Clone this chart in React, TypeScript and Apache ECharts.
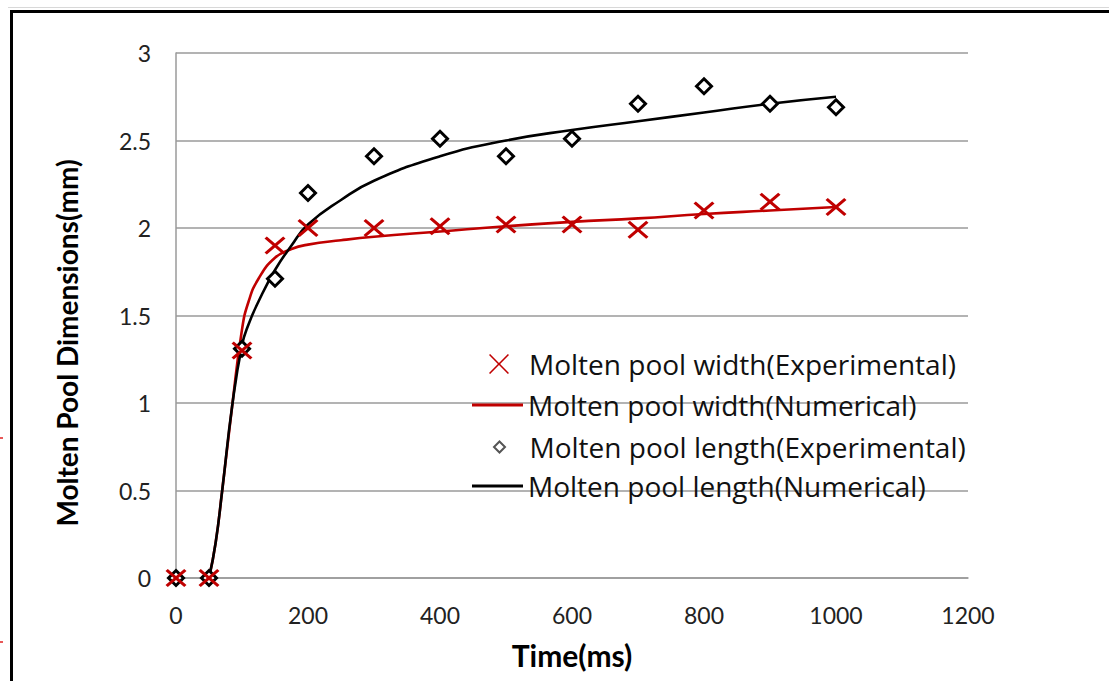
import React, { useEffect, useRef } from "react";
import * as echarts from "echarts";

// ---- data ----
const expTime = [0, 50, 100, 150, 200, 300, 400, 500, 600, 700, 800, 900, 1000];
const widthExp = [0, 0, 1.3, 1.9, 2.0, 2.0, 2.01, 2.02, 2.02, 1.99, 2.1, 2.15, 2.12];
const lengthExp = [0, 0, 1.31, 1.71, 2.2, 2.41, 2.51, 2.41, 2.51, 2.71, 2.81, 2.71, 2.69];

const numTime = [50, 60, 70, 85, 100, 110, 125, 150, 175, 200, 250, 300, 400, 500, 600, 700, 800, 900, 1000];
const widthNum = [0, 0.2, 0.5, 0.98, 1.42, 1.58, 1.71, 1.83, 1.88, 1.905, 1.93, 1.95, 1.98, 2.01, 2.035, 2.055, 2.08, 2.1, 2.12];
const lengthNum = [0, 0.2, 0.5, 0.98, 1.33, 1.45, 1.58, 1.76, 1.9, 2.02, 2.16, 2.27, 2.41, 2.5, 2.56, 2.61, 2.66, 2.71, 2.75];

const xTicks = [0, 200, 400, 600, 800, 1000, 1200];
const yTicks = [0, 0.5, 1, 1.5, 2, 2.5, 3];

const names = [
  "Molten pool width(Experimental)",
  "Molten pool width(Numerical)",
  "Molten pool length(Experimental)",
  "Molten pool length(Numerical)",
];

const RED = "#c00000";
const X_PATH =
  "path://M0,2.2L2.2,0L10,7.8L17.8,0L20,2.2L12.2,10L20,17.8L17.8,20L10,12.2L2.2,20L0,17.8L7.8,10Z";
const X_PATH_THIN =
  "path://M0,1.1L1.1,0L10,8.9L18.9,0L20,1.1L11.1,10L20,18.9L18.9,20L10,11.1L1.1,20L0,18.9L8.9,10Z";
const DIAMOND_PATH = "path://M10,0L20,10L10,20L0,10Z";

const legendText = {
  fontFamily: "Open Sans",
  fontSize: 28,
  color: "#111",
};

export default function App() {
  const ref = useRef<HTMLDivElement>(null);

  useEffect(() => {
    if (!ref.current) return;
    const chart = echarts.init(ref.current, undefined, { renderer: "svg" });
    const zip = (xs: number[], ys: number[]) => xs.map((x, i) => [x, ys[i]]);

    chart.setOption({
      animation: false,
      backgroundColor: "#ffffff",
      grid: { left: 176, top: 53, width: 792, height: 525, containLabel: false },
      xAxis: {
        type: "value",
        min: xTicks[0],
        max: xTicks[xTicks.length - 1],
        interval: 200,
        name: "Time(ms)",
        nameLocation: "middle",
        nameGap: 62,
        nameTextStyle: { fontFamily: "Lato", fontWeight: "bold", fontSize: 30, color: "#000" },
        axisLine: { show: true, lineStyle: { color: "#9a9a9a", width: 1.5 } },
        axisTick: { show: false },
        splitLine: { show: false },
        axisLabel: {
          margin: 25,
          fontFamily: "Lato",
          fontSize: 23,
          color: "#222",
          formatter: (v: number) => String(v),
        },
      },
      yAxis: {
        type: "value",
        min: yTicks[0],
        max: yTicks[yTicks.length - 1],
        interval: 0.5,
        name: "Molten Pool Dimensions(mm)",
        nameLocation: "middle",
        nameGap: 95,
        nameTextStyle: {
          fontFamily: "Lato",
          fontWeight: "bold",
          fontSize: 28,
          color: "#000",
          padding: [0, 55, 0, 0],
        },
        axisLine: { show: true, lineStyle: { color: "#9a9a9a", width: 1.5 } },
        axisTick: { show: false },
        splitLine: { show: true, lineStyle: { color: "#9a9a9a", width: 1.5 } },
        axisLabel: {
          margin: 25,
          fontFamily: "Lato",
          fontSize: 23,
          color: "#222",
          formatter: (v: number) => String(v),
        },
      },
      legend: [
        {
          data: [{ name: names[0], icon: X_PATH_THIN }],
          left: 489,
          top: 350,
          padding: 0,
          itemWidth: 50,
          itemHeight: 20,
          selectedMode: false,
          textStyle: legendText,
        },
        {
          data: [{ name: names[1], icon: "rect" }],
          left: 472,
          top: 391,
          padding: 0,
          itemWidth: 51,
          itemHeight: 3,
          selectedMode: false,
          textStyle: legendText,
        },
        {
          data: [{ name: names[2], icon: DIAMOND_PATH }],
          left: 493,
          top: 433,
          padding: 0,
          itemWidth: 50,
          itemHeight: 11,
          selectedMode: false,
          itemStyle: { color: "#ffffff", borderColor: "#555", borderWidth: 2 },
          textStyle: legendText,
        },
        {
          data: [{ name: names[3], icon: "rect" }],
          left: 472,
          top: 472,
          padding: 0,
          itemWidth: 51,
          itemHeight: 3,
          selectedMode: false,
          textStyle: legendText,
        },
      ],
      series: [
        {
          name: names[0],
          type: "scatter",
          data: zip(expTime, widthExp),
          symbol: X_PATH,
          symbolSize: [21, 18],
          itemStyle: { color: RED, opacity: 1 },
          z: 5,
        },
        {
          name: names[1],
          type: "line",
          data: zip(numTime, widthNum),
          smooth: 0.5,
          showSymbol: false,
          symbol: "none",
          itemStyle: { color: RED },
          lineStyle: { color: RED, width: 2.6 },
          z: 2,
        },
        {
          name: names[2],
          type: "scatter",
          data: zip(expTime, lengthExp),
          symbol: "diamond",
          symbolSize: 15,
          itemStyle: { color: "#ffffff", borderColor: "#000", borderWidth: 3, opacity: 1 },
          z: 4,
        },
        {
          name: names[3],
          type: "line",
          data: zip(numTime, lengthNum),
          smooth: 0.5,
          showSymbol: false,
          symbol: "none",
          itemStyle: { color: "#000" },
          lineStyle: { color: "#000", width: 2.6 },
          z: 3,
        },
      ],
      graphic: [
        {
          type: "line",
          shape: { x1: 11, y1: 11.5, x2: 1109, y2: 11.5 },
          style: { stroke: "#000", lineWidth: 3 },
        },
        {
          type: "line",
          shape: { x1: 11.5, y1: 10, x2: 11.5, y2: 681 },
          style: { stroke: "#000", lineWidth: 3 },
        },
        {
          type: "line",
          shape: { x1: 8, y1: 7.5, x2: 1109, y2: 7.5 },
          style: { stroke: "#d8d8d8", lineWidth: 1 },
        },
        {
          type: "line",
          shape: { x1: 0, y1: 438, x2: 3, y2: 438 },
          style: { stroke: "#e02020", lineWidth: 1.5 },
        },
        {
          type: "line",
          shape: { x1: 0, y1: 642, x2: 3, y2: 642 },
          style: { stroke: "#e02020", lineWidth: 1.5 },
        },
      ],
    });

    return () => chart.dispose();
  }, []);

  return (
    <div
      ref={ref}
      style={{ position: "fixed", left: 0, top: 0, width: 1109, height: 681, background: "#fff" }}
    />
  );
}
